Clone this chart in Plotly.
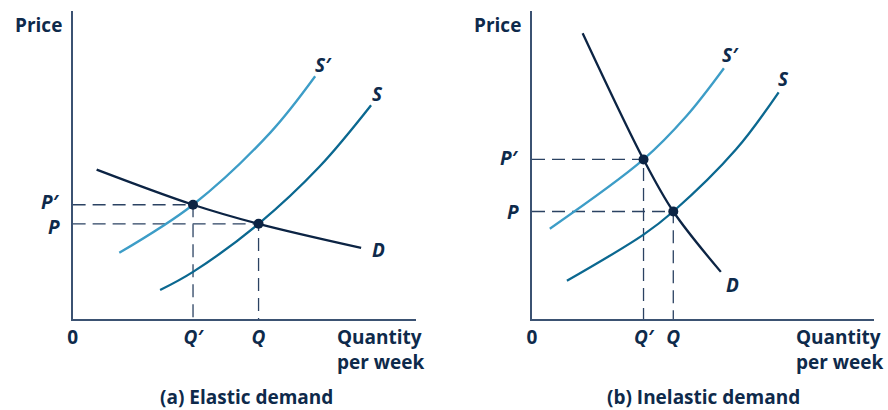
import plotly.graph_objects as go

# ---- data (quantity 0-10, price 0-10) ----
# (a) elastic demand
a_d_x = [0.70, 3.51, 5.42, 8.41]
a_d_y = [4.85, 3.71, 3.09, 2.31]
a_s1_x = [1.36, 3.51, 5.77, 7.07]          # S'
a_s1_y = [2.15, 3.71, 6.06, 7.88]
a_s_x = [2.55, 3.51, 5.42, 7.20, 8.70]     # S
a_s_y = [0.94, 1.53, 3.09, 4.95, 6.94]
a_eq_q = [3.51, 5.42]                      # Q', Q
a_eq_p = [3.71, 3.09]                      # P', P

# (b) inelastic demand
b_d_x = [1.48, 3.26, 4.13, 5.52]
b_d_y = [9.28, 5.18, 3.49, 1.53]
b_s1_x = [0.52, 3.26, 4.51, 5.61]
b_s1_y = [2.93, 5.18, 6.58, 8.14]
b_s_x = [1.02, 3.26, 4.13, 5.96, 7.21]
b_s_y = [1.24, 2.74, 3.49, 5.50, 7.36]
b_eq_q = [3.26, 4.13]
b_eq_p = [5.18, 3.49]

q_labels = ["<b><i>Q′</i></b>", "<b><i>Q</i></b>"]
p_labels = ["<b><i>P′</i></b>", "<b><i>P</i></b>"]
curve_names = ["S′", "S", "D"]
a_lab_xy = [(7.30, 8.25), (8.90, 7.31), (8.93, 2.24)]
b_lab_xy = [(5.81, 8.57), (7.35, 7.79), (5.87, 1.10)]

NAVY = "#0c2444"
TEXT = "#0e2a4b"
AXIS = "#3b5272"
LIGHT = "#3d9dc7"
TEAL = "#0b6890"
FONT = "Open Sans"

fig = go.Figure()


def panel(xa, ya, dx, dy, s1x, s1y, sx, sy, eq_q, eq_p):
    kw = dict(xaxis=xa, yaxis=ya, showlegend=False, hoverinfo="skip")
    # dashed guides
    for q, p in zip(eq_q, eq_p):
        fig.add_trace(go.Scatter(x=[0, q, q], y=[p, p, 0], mode="lines",
                                 line=dict(color="#2b4262", width=1.3, dash="13px,7px"), **kw))
    fig.add_trace(go.Scatter(x=s1x, y=s1y, mode="lines",
                             line=dict(color=LIGHT, width=2.3, shape="spline"), **kw))
    fig.add_trace(go.Scatter(x=sx, y=sy, mode="lines",
                             line=dict(color=TEAL, width=2.3, shape="spline"), **kw))
    fig.add_trace(go.Scatter(x=dx, y=dy, mode="lines",
                             line=dict(color=NAVY, width=2.3, shape="spline"), **kw))
    fig.add_trace(go.Scatter(x=eq_q, y=eq_p, mode="markers",
                             marker=dict(color=NAVY, size=10), **kw))


panel("x", "y", a_d_x, a_d_y, a_s1_x, a_s1_y, a_s_x, a_s_y, a_eq_q, a_eq_p)
panel("x2", "y2", b_d_x, b_d_y, b_s1_x, b_s1_y, b_s_x, b_s_y, b_eq_q, b_eq_p)

tickfont = dict(family=FONT, size=19, color=TEXT)
ax_common = dict(range=[0, 10], showgrid=False, zeroline=False, showline=True,
                 linecolor=AXIS, linewidth=1.5, ticks="", tickfont=tickfont,
                 fixedrange=True)
y_dom = [1 - 319 / 410, 1 - 11 / 410]
fig.update_layout(
    width=888, height=410, margin=dict(l=0, r=0, t=0, b=0),
    paper_bgcolor="white", plot_bgcolor="white",
    xaxis=dict(domain=[68 / 888, 413 / 888], tickvals=[0] + a_eq_q,
               ticktext=["<b>0</b>"] + q_labels, ticklabelstandoff=0, **ax_common),
    yaxis=dict(domain=y_dom, showticklabels=False, **ax_common),
    xaxis2=dict(domain=[530 / 888, 874 / 888], tickvals=[0] + b_eq_q,
                ticktext=["<b>0</b>"] + q_labels, ticklabelstandoff=0,
                anchor="y2", **ax_common),
    yaxis2=dict(domain=y_dom, showticklabels=False, anchor="x2", **ax_common),
)

txt = dict(family=FONT, size=19, color=TEXT)
ann = []
for (xr, yr), labs, eq_p, sh in ((("x", "y"), a_lab_xy, a_eq_p, (3, -3)),
                                 (("x2", "y2"), b_lab_xy, b_eq_p, (1, 0))):
    for name, (lx, ly) in zip(curve_names, labs):
        ann.append(dict(x=lx, y=ly, xref=xr, yref=yr, text=f"<b><i>{name}</i></b>",
                        showarrow=False, font=txt, xanchor="center", yanchor="middle"))
    # price labels on the vertical axis
    for lab, p, ys in zip(p_labels, eq_p, sh):
        ann.append(dict(x=0, y=p, xref=xr, yref=yr, text=lab, showarrow=False,
                        font=txt, xanchor="right", yanchor="middle",
                        xshift=-11, yshift=ys))
for cx in (34, 495):
    ann.append(dict(x=cx / 888, y=1 - 25 / 410, xref="paper", yref="paper",
                    text="<b>Price</b>", showarrow=False, font=txt,
                    xanchor="center", yanchor="middle"))
for lx in (332, 793):
    ann.append(dict(x=lx / 888, y=1 - 349 / 410, xref="paper", yref="paper",
                    text="<b>Quantity<br>per week</b>", showarrow=False, font=txt,
                    xanchor="left", yanchor="middle", align="left"))
for cx, t in ((243, "(a) Elastic demand"), (702, "(b) Inelastic demand")):
    ann.append(dict(x=cx / 888, y=1 - 397 / 410, xref="paper", yref="paper",
                    text=f"<b>{t}</b>", showarrow=False, font=txt,
                    xanchor="center", yanchor="middle", borderpad=0))
fig.update_layout(annotations=ann)

fig.write_html("out.html", config={"displayModeBar": False},
               post_script="document.body.style.margin='0';")
